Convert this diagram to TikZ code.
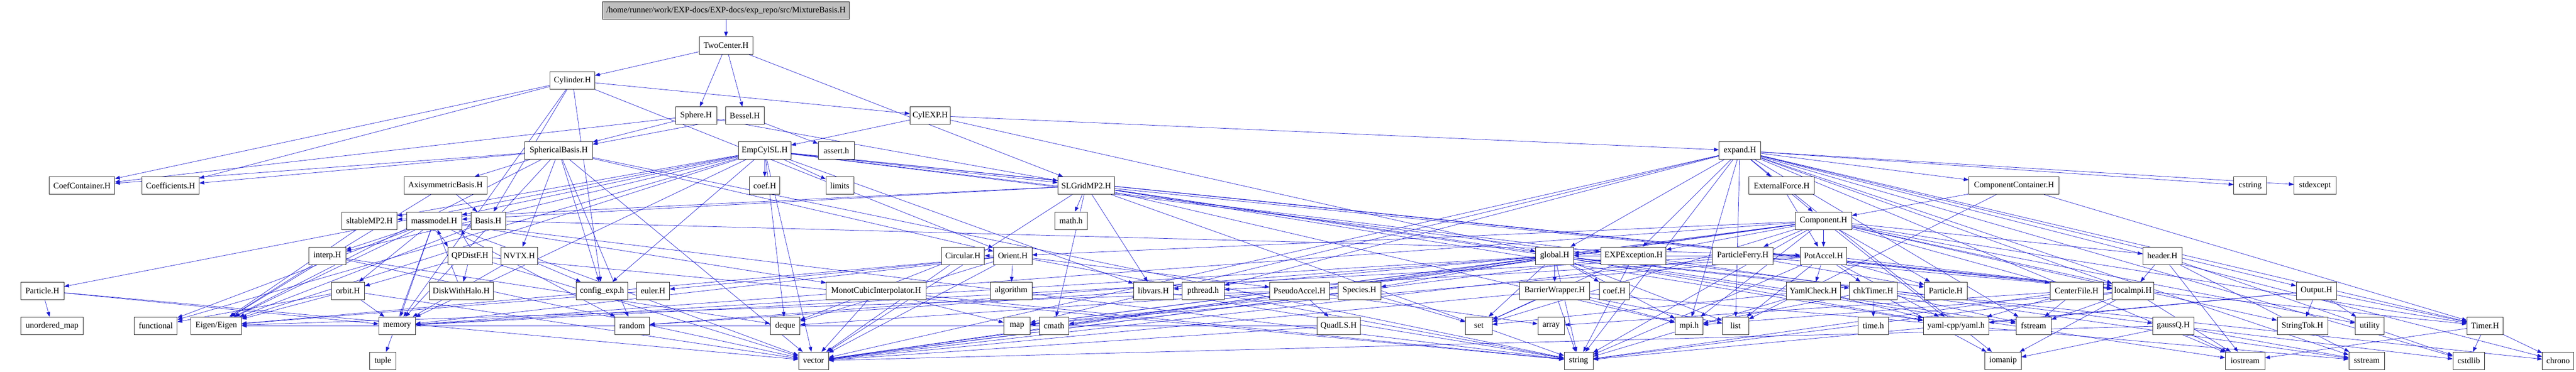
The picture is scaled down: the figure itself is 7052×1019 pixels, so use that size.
\documentclass[tikz,border=0pt]{standalone}
\usepackage{fontspec}
\setmainfont{Liberation Serif}
\usetikzlibrary{arrows.meta}
\definecolor{edgeblue}{RGB}{26,26,205}
\definecolor{topgray}{RGB}{191,191,191}
\pgfdeclarelayer{bglayer}
\pgfdeclarelayer{edgelayer}
\pgfsetlayers{bglayer,edgelayer,main}
\newcommand\mknode[6][white]{%
  \pgfmathsetmacro\ndw{(#5-#4)*0.75}%
  \pgfmathsetmacro\ndx{(#4+#5)/2}%
  \pgfmathsetmacro\ndy{29+96*#6}%
  \node[filebox, fill=#1, minimum width=\ndw pt] (#2) at (\ndx,\ndy) {#3};}
\tikzset{
  filebox/.style={draw=black!85, line width=0.9pt, minimum height=36pt, inner sep=0pt,
    font=\fontsize{17.25pt}{20pt}\selectfont},
  dep/.style={draw=edgeblue, line width=0.75pt, -{Triangle[length=10pt,width=7.5pt]}}
}
\begin{document}
\begin{tikzpicture}[x=0.75pt,y=-0.75pt]
\begin{pgfonlayer}{bglayer}
\fill[white] (0,0) rectangle (7052,1019);
\end{pgfonlayer}
\useasboundingbox (0,0) rectangle (7052,1019);
% row 0-4
\mknode[topgray]{top}{/home/runner/work/EXP-docs/EXP-docs/exp\_repo/src/MixtureBasis.H}{1650}{2325}{0}
\mknode{twocenter}{TwoCenter.H}{1914}{2061}{1}
\mknode{cylinder}{Cylinder.H}{1506}{1628}{2}
\mknode{sphere}{Sphere.H}{1849}{1962}{3}
\mknode{bessel}{Bessel.H}{1986}{2092}{3}
\mknode{cylexp}{CylEXP.H}{2491}{2602}{3}
\mknode{sphbasis}{SphericalBasis.H}{1437}{1622}{4}
\mknode{empcyl}{EmpCylSL.H}{2022}{2165}{4}
\mknode{asserth}{assert.h}{2240}{2339}{4}
\mknode{expand}{expand.H}{4706}{4820}{4}
% row 5
\mknode{coefcont}{CoefContainer.H}{135}{314}{5}
\mknode{coeffs}{Coefficients.H}{389}{545}{5}
\mknode{axisym}{AxisymmetricBasis.H}{1106}{1333}{5}
\mknode{coefA}{coef.H}{2052}{2135}{5}
\mknode{limits}{limits}{2261}{2337}{5}
\mknode{slgrid}{SLGridMP2.H}{2896}{3051}{5}
\mknode{extforce}{ExternalForce.H}{4788}{4967}{5}
\mknode{compcont}{ComponentContainer.H}{5390}{5637}{5}
\mknode{cstring}{cstring}{6115}{6205}{5}
\mknode{stdexcept}{stdexcept}{6280}{6395}{5}
% row 6
\mknode{sltable}{sltableMP2.H}{936}{1087}{6}
\mknode{massmodel}{massmodel.H}{1113}{1264}{6}
\mknode{basis}{Basis.H}{1289}{1384}{6}
\mknode{mathh}{math.h}{2887}{2977}{6}
\mknode{component}{Component.H}{4915}{5069}{6}
% row 7
\mknode{interp}{interp.H}{845}{947}{7}
\mknode{qpdistf}{QPDistF.H}{1226}{1347}{7}
\mknode{nvtx}{NVTX.H}{1372}{1471}{7}
\mknode{circular}{Circular.H}{2577}{2695}{7}
\mknode{orient}{Orient.H}{2720}{2825}{7}
\mknode{global}{global.H}{4204}{4308}{7}
\mknode{expexc}{EXPException.H}{4383}{4561}{7}
\mknode{pferry}{ParticleFerry.H}{4688}{4854}{7}
\mknode{potaccel}{PotAccel.H}{4929}{5055}{7}
\mknode{header}{header.H}{5866}{5973}{7}
% row 8
\mknode{particleA}{Particle.H}{57}{175}{8}
\mknode{orbit}{orbit.H}{907}{998}{8}
\mknode{diskhalo}{DiskWithHalo.H}{1175}{1350}{8}
\mknode{configexp}{config\_exp.h}{1578}{1718}{8}
\mknode{euler}{euler.H}{1743}{1833}{8}
\mknode{monot}{MonotCubicInterpolator.H}{2262}{2535}{8}
\mknode{algorithm}{algorithm}{2711}{2825}{8}
\mknode{libvars}{libvars.H}{3103}{3212}{8}
\mknode{pthread}{pthread.h}{3236}{3351}{8}
\mknode{pseudo}{PseudoAccel.H}{3476}{3639}{8}
\mknode{species}{Species.H}{3663}{3780}{8}
\mknode{barrier}{BarrierWrapper.H}{4160}{4352}{8}
\mknode{coefB}{coef.H}{4378}{4460}{8}
\mknode{yamlcheck}{YamlCheck.H}{4890}{5038}{8}
\mknode{chktimer}{chkTimer.H}{5063}{5193}{8}
\mknode{particleB}{Particle.H}{5268}{5385}{8}
\mknode{centerfile}{CenterFile.H}{5612}{5758}{8}
\mknode{localmpi}{localmpi.H}{5782}{5896}{8}
\mknode{output}{Output.H}{6286}{6397}{8}
% row 9
\mknode{umap}{unordered\_map}{57}{228}{9}
\mknode{functional}{functional}{368}{485}{9}
\mknode{eigen}{Eigen/Eigen}{523}{661}{9}
\mknode{memory}{memory}{1037}{1137}{9}
\mknode{random}{random}{1683}{1778}{9}
\mknode{deque}{deque}{2109}{2190}{9}
\mknode{map}{map}{2748}{2820}{9}
\mknode{cmath}{cmath}{2845}{2926}{9}
\mknode{quadls}{QuadLS.H}{3605}{3724}{9}
\mknode{set}{set}{4012}{4085}{9}
\mknode{array}{array}{4210}{4283}{9}
\mknode{mpih}{mpi.h}{4586}{4662}{9}
\mknode{list}{list}{4715}{4787}{9}
\mknode{timeh}{time.h}{5087}{5170}{9}
\mknode{yaml}{yaml-cpp/yaml.h}{5265}{5444}{9}
\mknode{fstream}{fstream}{5519}{5615}{9}
\mknode{gaussq}{gaussQ.H}{5893}{6006}{9}
\mknode{stringtok}{StringTok.H}{6234}{6372}{9}
\mknode{utility}{utility}{6448}{6527}{9}
\mknode{timer}{Timer.H}{6754}{6852}{9}
% row 10
\mknode{tuple}{tuple}{1012}{1084}{10}
\mknode{vector}{vector}{2186}{2268}{10}
\mknode{string}{string}{4282}{4361}{10}
\mknode{iomanip}{iomanip}{5434}{5533}{10}
\mknode{iostream}{iostream}{6092}{6200}{10}
\mknode{sstream}{sstream}{6430}{6528}{10}
\mknode{cstdlib}{cstdlib}{6715}{6802}{10}
\mknode{chrono}{chrono}{6960}{7046}{10}

\begin{pgfonlayer}{edgelayer}
\foreach \s/\t in {top/twocenter,
 twocenter/cylinder, twocenter/sphere, twocenter/bessel, twocenter/slgrid,
 cylinder/coefcont, cylinder/coeffs, cylinder/memory, cylinder/basis, cylinder/configexp, cylinder/cylexp, cylinder/orient,
 sphere/sphbasis, sphere/slgrid, sphere/coefcont,
 bessel/sphbasis, bessel/asserth,
 cylexp/empcyl, cylexp/expand, cylexp/global,
 sphbasis/axisym, sphbasis/nvtx, sphbasis/configexp, sphbasis/random, sphbasis/vector, sphbasis/string, sphbasis/memory, sphbasis/coefcont, sphbasis/coeffs, sphbasis/eigen, sphbasis/orient,
 empcyl/coefA, empcyl/limits, empcyl/slgrid, empcyl/configexp, empcyl/deque, empcyl/vector, empcyl/memory, empcyl/eigen, empcyl/interp, empcyl/massmodel, empcyl/gaussq, empcyl/timer, empcyl/libvars, empcyl/expexc, empcyl/localmpi, empcyl/particleA, empcyl/functional, empcyl/sltable,
 axisym/basis, axisym/eigen,
 basis/potaccel, basis/eigen,
 sltable/eigen,
 massmodel/interp, massmodel/orbit, massmodel/memory, massmodel/eigen, massmodel/vector, massmodel/string, massmodel/tuple, massmodel/random, massmodel/functional, massmodel/monot,
 interp/eigen, interp/vector, interp/deque,
 qpdistf/diskhalo, qpdistf/orbit, qpdistf/vector, qpdistf/string,
 diskhalo/massmodel,
 nvtx/configexp, nvtx/memory,
 orbit/memory, orbit/eigen, orbit/functional, orbit/vector,
 particleA/umap, particleA/memory, particleA/vector,
 monot/vector, monot/map, monot/string,
 orient/algorithm, orient/circular, orient/euler, orient/deque, orient/vector, orient/eigen, orient/memory, orient/pseudo, orient/string,
 circular/vector, circular/deque,
 euler/eigen,
 slgrid/mathh, slgrid/iostream, slgrid/fstream, slgrid/string, slgrid/mpih, slgrid/localmpi, slgrid/massmodel, slgrid/sltable, slgrid/yaml, slgrid/libvars, slgrid/vector, slgrid/cmath,
 libvars/random, libvars/string,
 pseudo/quadls, pseudo/eigen, pseudo/deque, pseudo/array,
 quadls/eigen, quadls/vector,
 species/set, species/map, species/vector,
 global/barrier, global/coefB, global/mpih, global/list, global/set, global/string, global/vector, global/map, global/memory, global/random, global/libvars, global/species, global/chktimer, global/yaml, global/chrono,
 barrier/set, barrier/vector, barrier/string, barrier/mpih, barrier/list, barrier/sstream,
 expexc/string, expexc/sstream, expexc/set, expexc/vector,
 pferry/particleB, pferry/localmpi, pferry/memory, pferry/vector,
 component/potaccel, component/pferry, component/global, component/expexc, component/orient, component/header, component/localmpi, component/centerfile, component/yaml, component/particleB, component/mpih, component/set, component/map, component/vector, component/memory, component/string, component/timer, component/utility, component/stringtok, component/cmath,
 potaccel/yamlcheck, potaccel/particleB, potaccel/chktimer, potaccel/pthread, potaccel/yaml, potaccel/localmpi, potaccel/global, potaccel/string, potaccel/map, potaccel/list,
 header/localmpi, header/iostream, header/sstream, header/cstdlib,
 yamlcheck/yaml, yamlcheck/set, yamlcheck/string,
 chktimer/timeh, chktimer/iomanip, chktimer/fstream, chktimer/mpih,
 centerfile/fstream, centerfile/yaml, centerfile/array, centerfile/string,
 localmpi/mpih, localmpi/fstream, localmpi/iomanip, localmpi/iostream, localmpi/string,
 output/stringtok, output/utility, output/timer, output/yaml, output/string,
 gaussq/iostream, gaussq/sstream, gaussq/cstdlib, gaussq/vector, gaussq/iomanip,
 timer/cstdlib, timer/chrono, timer/iostream,
 extforce/component, extforce/potaccel,
 compcont/component, compcont/list, compcont/timer,
 expand/cstring, expand/stdexcept, expand/output, expand/timer, expand/cstdlib, expand/sstream, expand/iostream, expand/mpih, expand/global, expand/expexc, expand/extforce, expand/compcont, expand/pthread, expand/list, expand/vector, expand/string, expand/map, expand/iomanip, expand/fstream, expand/localmpi, expand/chrono}
 {\draw[dep] (\s) -- (\t);}
\draw[dep] (massmodel.south) to[bend left=12] (qpdistf.north west);
\draw[dep] (qpdistf.north) to[bend left=12] (massmodel.south east);
\end{pgfonlayer}
\end{tikzpicture}
\end{document}
